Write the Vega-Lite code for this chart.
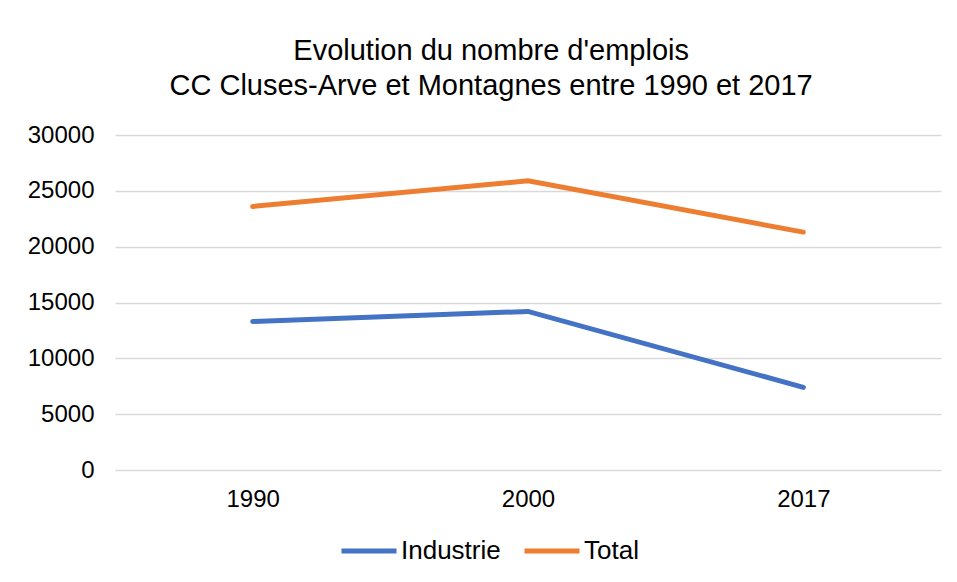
{
  "$schema": "https://vega.github.io/schema/vega-lite/v6.json",
  "width": 826,
  "height": 335,
  "padding": {"left": 27, "top": 37, "right": 16, "bottom": 10},
  "background": "white",
  "title": {
    "text": ["Evolution du nombre d'emplois", "CC Cluses-Arve et Montagnes entre 1990 et 2017"],
    "fontSize": 29,
    "font": "Liberation Sans",
    "fontWeight": "normal",
    "color": "#000000",
    "lineHeight": 35,
    "anchor": "middle",
    "frame": "bounds",
    "dx": 7,
    "offset": 22
  },
  "data": {
    "values": [
      {"annee": "1990", "serie": "Industrie", "emplois": 13300},
      {"annee": "2000", "serie": "Industrie", "emplois": 14200},
      {"annee": "2017", "serie": "Industrie", "emplois": 7400},
      {"annee": "1990", "serie": "Total", "emplois": 23600},
      {"annee": "2000", "serie": "Total", "emplois": 25900},
      {"annee": "2017", "serie": "Total", "emplois": 21300}
    ]
  },
  "mark": {"type": "line", "strokeWidth": 5, "strokeCap": "round", "strokeJoin": "miter"},
  "encoding": {
    "x": {
      "field": "annee",
      "type": "nominal",
      "scale": {"type": "point", "padding": 0.5},
      "axis": {"title": null, "labelAngle": 0, "labelFontSize": 24, "labelFont": "Liberation Sans", "labelColor": "#000000", "labelPadding": 17, "ticks": false, "domain": false, "grid": false}
    },
    "y": {
      "field": "emplois",
      "type": "quantitative",
      "scale": {"domain": [0, 30000], "nice": false},
      "axis": {"title": null, "values": [0, 5000, 10000, 15000, 20000, 25000, 30000], "format": "d", "labelFontSize": 24, "labelFont": "Liberation Sans", "labelColor": "#000000", "labelPadding": 21, "ticks": false, "domain": false, "grid": true, "gridColor": "#d9d9d9", "gridWidth": 1.5}
    },
    "color": {
      "field": "serie",
      "type": "nominal",
      "scale": {"domain": ["Industrie", "Total"], "range": ["#4472C4", "#ED7D31"]},
      "legend": {
        "title": null,
        "orient": "none",
        "direction": "horizontal",
        "legendX": 224,
        "legendY": 386,
        "labelFontSize": 26,
        "labelFont": "Liberation Sans",
        "labelColor": "#000000",
        "symbolType": "stroke",
        "symbolStrokeWidth": 5,
        "symbolSize": 3025,
        "labelOffset": 2,
        "columnPadding": 13
      }
    }
  },
  "config": {"view": {"stroke": null}}
}
